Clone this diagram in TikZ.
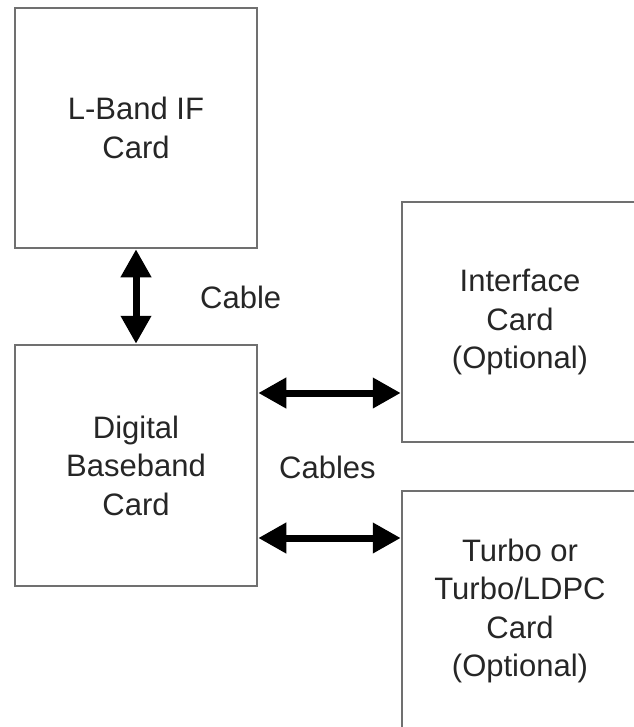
\documentclass[tikz,border=0pt]{standalone}
\usepackage{fontspec}
\setmainfont{Liberation Sans}
\usetikzlibrary{arrows.meta}
\definecolor{boxgray}{HTML}{707070}
\definecolor{txt}{HTML}{262626}
\begin{document}
\begin{tikzpicture}[x=1pt,y=1pt,
  card/.style={draw=boxgray, line width=2.5pt, fill=white, align=center,
    text=txt, font=\fontsize{31}{38.5}\selectfont, inner sep=0pt},
  lbl/.style={text=txt, font=\fontsize{31}{38.5}\selectfont, inner sep=0pt},
  dbl/.style={line width=7pt, {Triangle[length=28pt,width=29pt]}-{Triangle[length=28pt,width=29pt]}, shorten <=0pt, shorten >=0pt}]
\useasboundingbox (0,0) rectangle (633,-727);
\node[card, minimum width=242pt, minimum height=240pt] (lband) at (136,-128) {L-Band IF\\Card};
\node[card, minimum width=242pt, minimum height=241pt] (dbb) at (136,-465.5) {Digital\\Baseband\\Card};
\node[card, minimum width=236pt, minimum height=240pt] (iface) at (520,-322) {Interface\\Card\\(Optional)};
\node[card, minimum width=236pt, minimum height=240pt] (turbo) at (520,-611) {Turbo or\\Turbo/LDPC\\Card\\(Optional)};
\node[lbl, anchor=base west] (cable) at (200,-308) {Cable};
\node[lbl, anchor=base west] (cables) at (279,-478) {Cables};
\coordinate (a1) at ([yshift=72.5pt]dbb.east);
\coordinate (a2) at ([yshift=-72.5pt]dbb.east);
\draw[dbl] (lband.south) -- (dbb.north);
\draw[dbl] (a1) -- (a1 -| iface.west);
\draw[dbl] (a2) -- (a2 -| turbo.west);
\end{tikzpicture}
\end{document}
